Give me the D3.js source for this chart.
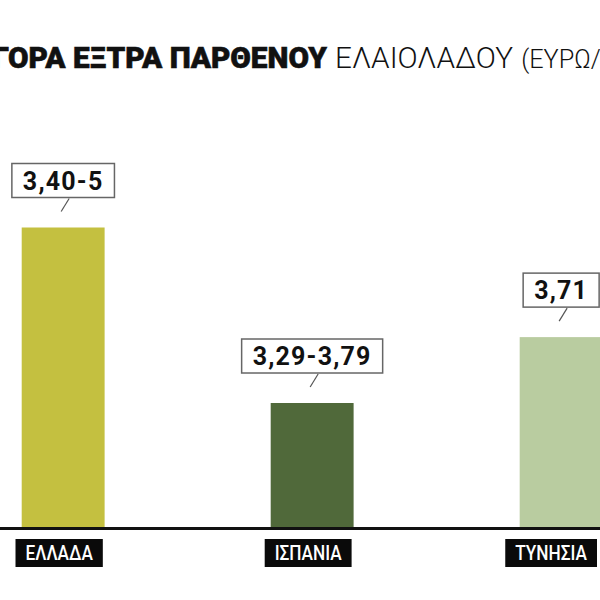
<!DOCTYPE html>
<html><head><meta charset="utf-8">
<script src="https://cdn.jsdelivr.net/npm/d3@7"></script>
<style>body{margin:0;background:#fff;overflow:hidden}</style></head>
<body><svg id="c" width="600" height="600"></svg>
<script>
const categories = ["ΕΛΛΑΔΑ", "ΙΣΠΑΝΙΑ", "ΤΥΝΗΣΙΑ"];
const priceLabels = ["3,40-5", "3,29-3,79", "3,71"];
const barHeights = [5.0, 2.07, 3.17]; // relative bar heights as drawn in the picture
const barColors = ["#c4c040", "#50693a", "#b9cca0"];
const titleBold = "ΑΓΟΡΑ ΕΞΤΡΑ ΠΑΡΘΕΝΟΥ";
const titleRegular = "ΕΛΑΙΟΛΑΔΟΥ";
const titleUnit = "(ΕΥΡΩ/ΚΙΛΟ)";

const svg = d3.select("#c");
svg.append("rect").attr("width", 600).attr("height", 600).attr("fill", "#fff");

const x = d3.scaleBand().domain(categories).range([21.7, 602.6]).paddingInner(0.667).paddingOuter(0);
const y = d3.scaleLinear().domain([0, 5]).range([527, 227.5]);
const bw = x.bandwidth();

function fitSize(text, family, weight, target, base) {
  const t = svg.append("text").attr("font-family", family).attr("font-weight", weight)
    .attr("font-size", base).text(text);
  const w = t.node().getComputedTextLength();
  t.remove();
  return base * target / w;
}

// Title
const boldFam = "Roboto, 'DejaVu Sans', sans-serif";
const regFam = "Roboto, 'Open Sans', sans-serif";
const bSize = fitSize("ΟΡΑ ΕΞΤΡΑ ΠΑΡΘΕΝΟΥ", boldFam, 900, 319, 24);
svg.append("text").attr("x", 327).attr("y", 68).attr("text-anchor", "end")
  .attr("font-family", boldFam).attr("font-weight", 900).attr("font-size", bSize)
  .attr("stroke", "#111").attr("stroke-width", 0.6)
  .attr("fill", "#111").text(titleBold);
const rSize = fitSize(titleRegular, regFam, 300, 178, 24);
const tr = svg.append("text").attr("x", 335).attr("y", 68)
  .attr("font-family", regFam).attr("font-weight", 300).attr("font-size", rSize).attr("fill", "#111");
tr.append("tspan").text(titleRegular + " ");
tr.append("tspan").attr("font-size", rSize * 0.85).attr("dx", 1).text(titleUnit);

// Bars
svg.selectAll("rect.bar").data(categories).join("rect").attr("class", "bar")
  .attr("x", d => x(d)).attr("width", bw)
  .attr("y", (d, i) => y(barHeights[i]))
  .attr("height", (d, i) => y(0) - y(barHeights[i]))
  .attr("fill", (d, i) => barColors[i]);

// Value callouts
const vg = svg.selectAll("g.val").data(categories).join("g").attr("class", "val");
vg.each(function (d, i) {
  const g = d3.select(this);
  const cx = x(d) + bw / 2;
  const top = y(barHeights[i]);
  const boxBottom = top - 30, boxTop = top - 64;
  const t = g.append("text").attr("x", cx).attr("y", (boxTop + boxBottom) / 2 + 9)
    .attr("text-anchor", "middle").attr("font-family", "Roboto, sans-serif")
    .attr("font-weight", 700).attr("font-size", 25).attr("letter-spacing", 1.2)
    .attr("fill", "#111").text(priceLabels[i]);
  const w = t.node().getComputedTextLength();
  g.insert("rect", "text").attr("x", cx - w / 2 - 11).attr("y", boxTop)
    .attr("width", w + 22).attr("height", boxBottom - boxTop)
    .attr("fill", "#fff").attr("stroke", "#666").attr("stroke-width", 1.5);
  g.append("line").attr("x1", cx + 6).attr("y1", boxBottom + 1).attr("x2", cx - 2).attr("y2", top - 16)
    .attr("stroke", "#555").attr("stroke-width", 1.2);
});

// Baseline axis
svg.append("line").attr("x1", 0).attr("x2", 600).attr("y1", y(0) + 1.5).attr("y2", y(0) + 1.5)
  .attr("stroke", "#111").attr("stroke-width", 3);

// Category labels
const labFam = "Roboto, sans-serif";
const lg = svg.selectAll("g.lab").data(categories).join("g").attr("class", "lab");
lg.each(function (d) {
  const g = d3.select(this);
  let cx = x(d) + bw / 2 - 4;
  const t = g.append("text").attr("y", 560).attr("text-anchor", "middle")
    .attr("font-family", labFam).attr("font-weight", 500).attr("font-size", 20)
    .attr("fill", "#fff").text(d);
  const w = t.node().getComputedTextLength() * 0.86;
  t.attr("textLength", w).attr("lengthAdjust", "spacingAndGlyphs");
  const half = w / 2 + 10;
  cx = Math.min(cx, 597 - half);
  t.attr("x", cx);
  g.insert("rect", "text").attr("x", cx - half).attr("y", 539)
    .attr("width", 2 * half).attr("height", 28).attr("fill", "#0a0a0a");
});
</script></body></html>
